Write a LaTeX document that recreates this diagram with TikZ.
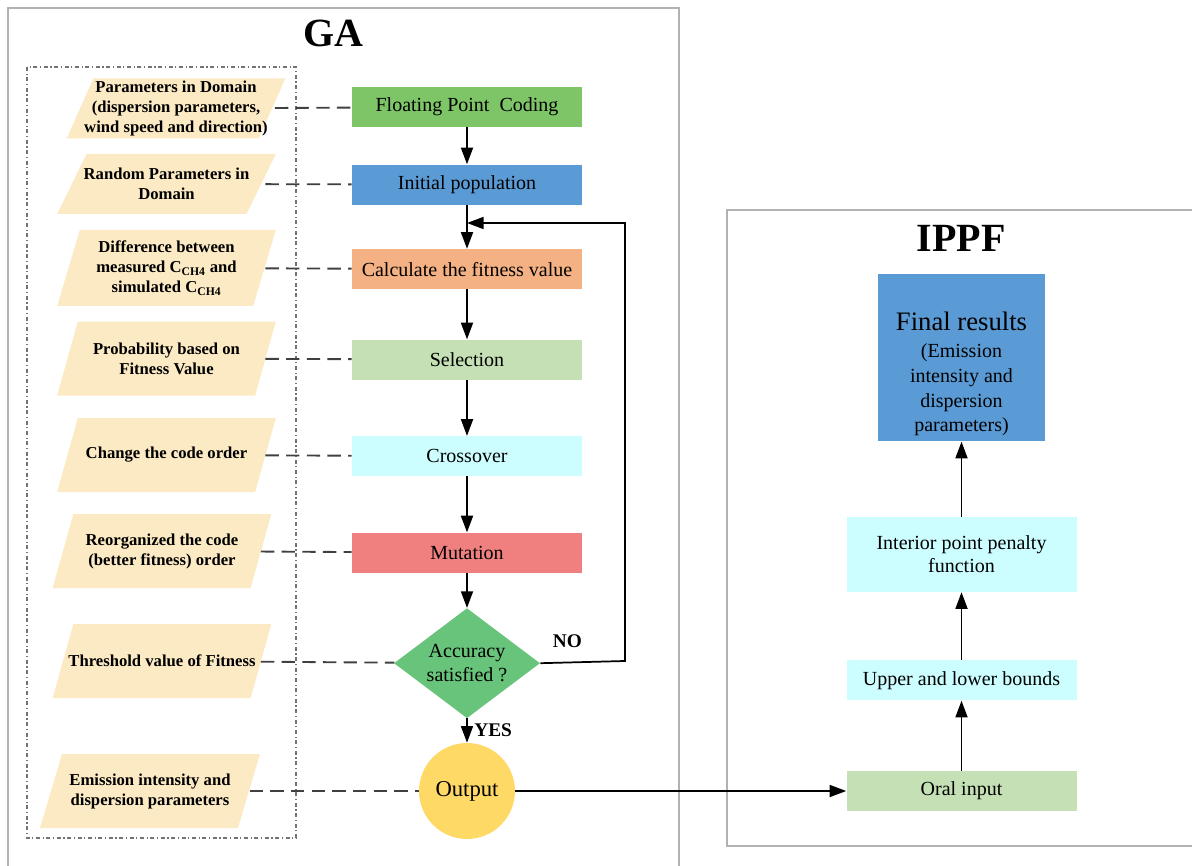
\documentclass[tikz,border=0pt]{standalone}
\usepackage{fontspec}
\setmainfont{Liberation Serif}
\usetikzlibrary{positioning}
\usetikzlibrary{shapes.geometric}
\usetikzlibrary{arrows.meta}
\definecolor{codegreen}{RGB}{126,197,104}
\definecolor{popblue}{RGB}{91,155,213}
\definecolor{fitorange}{RGB}{244,177,131}
\definecolor{selgreen}{RGB}{197,224,180}
\definecolor{paleaqua}{RGB}{204,253,255}
\definecolor{mutred}{RGB}{240,128,128}
\definecolor{accgreen}{RGB}{104,196,122}
\definecolor{outyellow}{RGB}{255,217,102}
\definecolor{inputtan}{RGB}{252,234,196}
\definecolor{framegray}{RGB}{178,178,178}
\tikzset{	gabox/.style={
		rectangle,
		minimum width=172.5pt,
		minimum height=30pt,
		inner sep=2pt,
		align=center,
		font=\fontsize{15}{17.5}\selectfont},
	datain/.style={
		rectangle,
		minimum width=164pt,
		minimum height=55.5pt,
		inner sep=0pt,
		align=center,
		font=\bfseries\fontsize{12.5}{15}\selectfont,
		path picture={
			\fill[inputtan] (path picture bounding box.south west)
				-- ([xshift=-#1]path picture bounding box.south east)
				-- (path picture bounding box.north east)
				-- ([xshift=#1]path picture bounding box.north west) -- cycle;}},
	datain/.default=15.5pt,
	decide/.style={
		diamond,
		aspect=1.33,
		fill=accgreen,
		minimum width=109.5pt,
		minimum height=82.5pt,
		inner sep=0pt,
		align=center,
		font=\fontsize{15}{17.5}\selectfont},
	outcircle/.style={
		circle,
		fill=outyellow,
		minimum size=72pt,
		inner sep=0pt,
		font=\fontsize{17}{20}\selectfont},
	title/.style={font=\bfseries\fontsize{30}{34}\selectfont},
	answer/.style={font=\bfseries\fontsize{14.5}{17}\selectfont},
	frame/.style={draw=framegray, line width=1.4pt},
	flow/.style={
		-{Triangle[length=12.5pt,width=9pt]},
		line width=1.3pt},
	link/.style={
		draw=black!75,
		line width=1.4pt,
		shorten <=-8pt,
		dash pattern=on 10pt off 5.5pt}
}
\begin{document}
\begin{tikzpicture}[x=0.75pt, y=-0.75pt]
	\useasboundingbox (0,0) rectangle (1192,866);
	% frames
	\draw[frame] (8,866) -- (8,8) -- (679,8) -- (679,866);
	\draw[frame] (1192,210) -- (727,210) -- (727,846) -- (1192,846);
	\draw[draw=black!55, line width=0.8pt, dash dot] (27,67) rectangle (296,838);
	\node[title] (gatitle) at (333,33) {GA};
	\node[title] (ippftitle) at (961,238) {IPPF};

	% GA steps
	\node[gabox, fill=codegreen] (fpc) at (467,107) {Floating Point\ \ Coding};
	\node[gabox, fill=popblue, below=27.75pt of fpc] (init) {Initial population};
	\node[gabox, fill=fitorange, below=33pt of init] (fit) {Calculate the fitness value};
	\node[gabox, fill=selgreen, below=37.5pt of fit] (sel) {Selection};
	\node[gabox, fill=paleaqua, below=42pt of sel] (cross) {Crossover};
	\node[gabox, fill=mutred, below=42pt of cross] (mut) {Mutation};
	\node[decide, below=26.25pt of mut] (acc) {Accuracy\\satisfied ?};
	\node[outcircle] (out) at (467,791) {Output};
	\coordinate (noturn) at (625,661);
	\coordinate (noback) at (625,223);
	\coordinate (merge) at (467,223);

	% inputs of each step
	\node[datain=20pt, minimum height=45pt] (dom) at (176,108.5) {Parameters in Domain\\(dispersion parameters,\\wind speed and direction)};
	\node[datain=22pt, minimum height=45pt] (rand) at (166.5,184) {Random Parameters in\\Domain};
	\node[datain=17pt, minimum height=57pt] (diff) at (166.5,268) {Difference between\\measured C\textsubscript{CH4} and\\simulated C\textsubscript{CH4}};
	\node[datain] (prob) at (166.5,358.5) {Probability based on\\Fitness Value};
	\node[datain] (order) at (166.5,455) {Change the code order};
	\node[datain] (reorg) at (162,551) {Reorganized the code\\(better fitness) order};
	\node[datain] (thr) at (162,661) {Threshold value of Fitness};
	\node[datain=16.5pt, minimum width=165pt] (emis) at (150,791) {Emission intensity and\\dispersion parameters};

	% IPPF
	\node[gabox, fill=selgreen] (oral) at (961.5,791) {Oral input};
	\node[gabox, fill=paleaqua, above=52.5pt of oral] (bounds) {Upper and lower bounds};
	\node[gabox, fill=paleaqua, minimum height=56.25pt, above=51pt of bounds] (ipf) {Interior point penalty\\function};
	\node[gabox, fill=popblue, minimum width=125.25pt, minimum height=125.25pt, above=56.25pt of ipf] (final) {\rule{0pt}{38pt}{\fontsize{20}{24}\selectfont Final results}\\[3pt](Emission\\[1pt]intensity and\\[1pt]dispersion\\[1pt]parameters)};

	\draw[flow] (fpc) -- (init);
	\draw[flow] (init) -- (fit);
	\draw[flow] (fit) -- (sel);
	\draw[flow] (sel) -- (cross);
	\draw[flow] (cross) -- (mut);
	\draw[flow] (mut) -- (acc);
	\draw[flow] (acc) -- node[answer, right=1.5pt] {YES} (out);
	\draw[flow] (acc.east) -- node[answer, above=7pt, pos=0.32] {NO} (noturn) -- (noback) -- (merge);
	\draw[flow] (out) -- (oral);
	\draw[flow] (oral) -- (bounds);
	\draw[flow] (bounds) -- (ipf);
	\draw[flow] (ipf) -- (final);

	\draw[link] (dom) -- (fpc);
	\draw[link] (rand) -- (init);
	\draw[link] (diff) -- (fit);
	\draw[link] (prob) -- (sel);
	\draw[link] (order) -- (cross);
	\draw[link] (reorg) -- (mut);
	\draw[link] (thr) -- (acc);
	\draw[link] (emis) -- (out);
\end{tikzpicture}
\end{document}
